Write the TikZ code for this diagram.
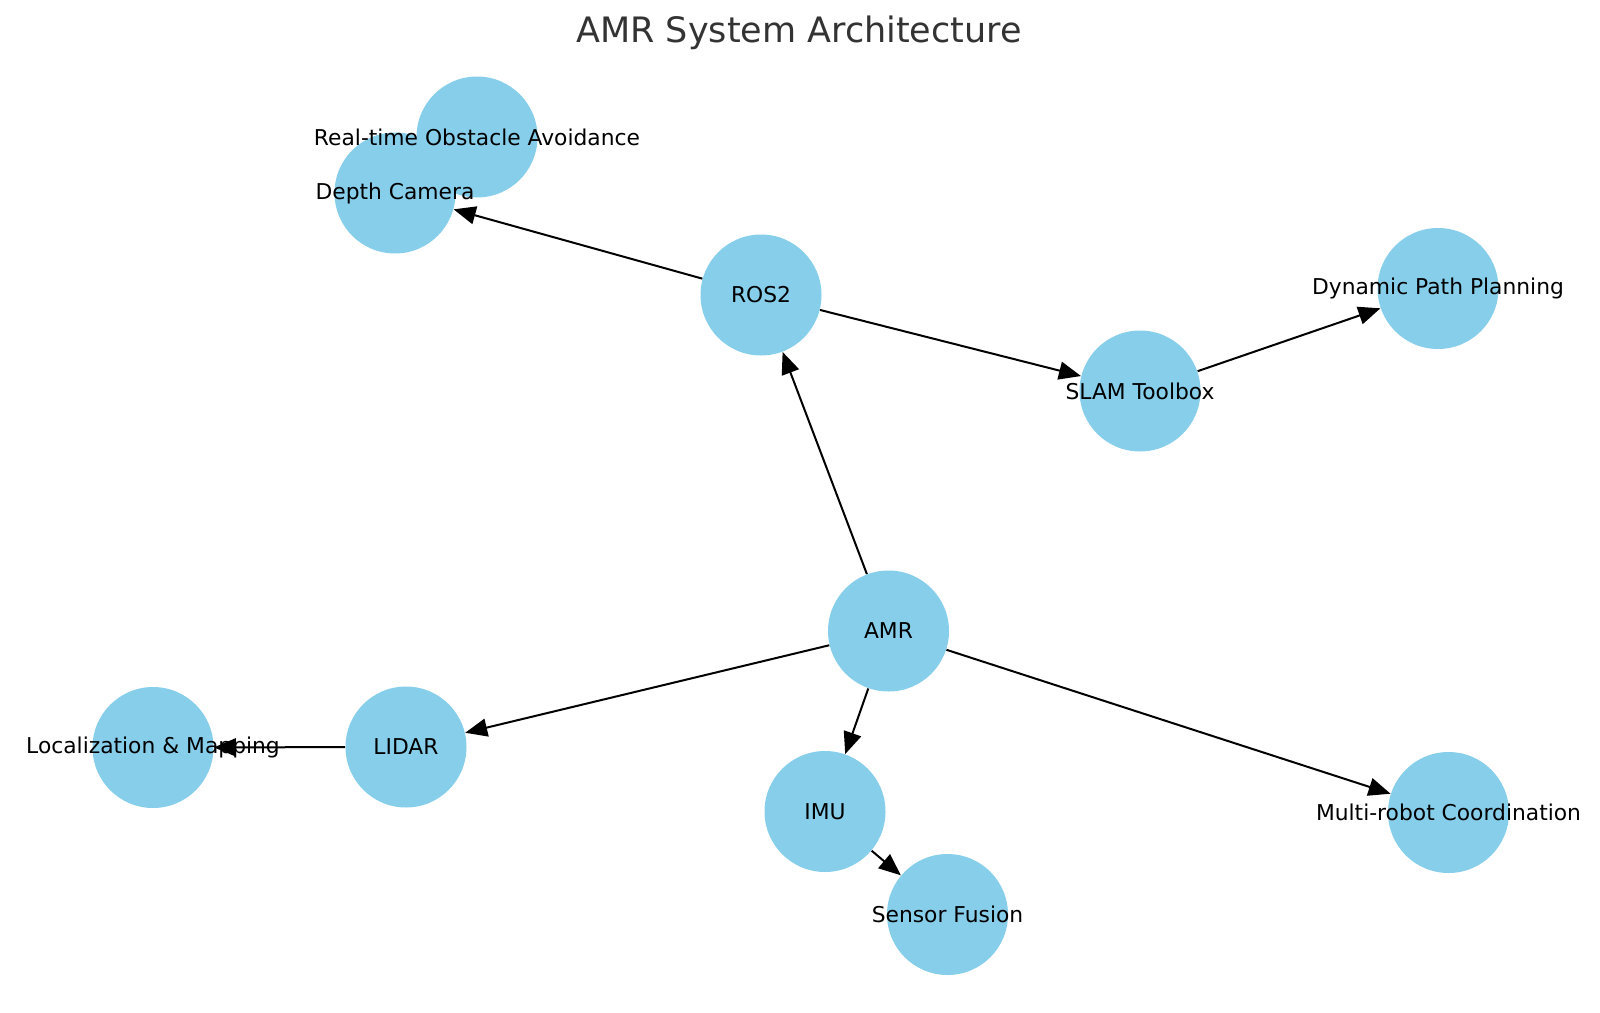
\documentclass[tikz,border=0pt]{standalone}
\usepackage{fontspec}
\setmainfont{DejaVu Sans}
\usetikzlibrary{arrows.meta}
\definecolor{skyblue}{RGB}{135,206,235}
\definecolor{titlegray}{RGB}{51,51,51}
\tikzset{
  dot/.style={circle,fill=skyblue,minimum size=60.5pt,inner sep=0pt},
  edge/.style={-{Triangle[length=11pt,width=9pt]},line width=1pt,black},
  txt/.style={inner sep=0pt,font=\fontsize{10.9pt}{12pt}\selectfont}
}
\begin{document}
\begin{tikzpicture}[x=0.5pt,y=-0.5pt]
			\useasboundingbox (0,0) rectangle (1600,1012);
			
			% Title
			\node[text=titlegray,font=\fontsize{17.5pt}{20pt}\selectfont] (title) at (799,33) {AMR System Architecture};
			
			% Nodes
			\node[dot] (amr) at (888.5,631) {};
			\node[dot] (ros) at (761,295) {};
			\node[dot] (slam) at (1140,391) {};
			\node[dot] (dpp) at (1438,288.5) {};
			\node[dot] (rtoa) at (477,137) {};
			\node[dot] (dcam) at (395,193) {};
			\node[dot] (lidar) at (406,747) {};
			\node[dot] (locmap) at (153,747.5) {};
			\node[dot] (imu) at (825,811.5) {};
			\node[dot] (fusion) at (947.5,914.5) {};
			\node[dot] (multi) at (1448.5,812.5) {};
			
			% Edges
			\draw[edge] (amr) -- (ros);
			\draw[edge] (amr) -- (lidar);
			\draw[edge] (amr) -- (imu);
			\draw[edge] (amr) -- (multi);
			\draw[edge] (ros) -- (dcam);
			\draw[edge] (ros) -- (slam);
			\draw[edge] (slam) -- (dpp);
			\draw[edge] (lidar) -- (locmap);
			\draw[edge] (imu) -- (fusion);
			
			% Labels
			\node[txt] (amr-t) at (amr) {AMR};
			\node[txt] (ros-t) at (ros) {ROS2};
			\node[txt] (slam-t) at (slam) {SLAM Toolbox};
			\node[txt] (dpp-t) at (dpp) {Dynamic Path Planning};
			\node[txt] (rtoa-t) at (rtoa) {Real-time Obstacle Avoidance};
			\node[txt] (dcam-t) at (dcam) {Depth Camera};
			\node[txt] (lidar-t) at (lidar) {LIDAR};
			\node[txt] (locmap-t) at (locmap) {Localization \& Mapping};
			\node[txt] (imu-t) at (imu) {IMU};
			\node[txt] (fusion-t) at (fusion) {Sensor Fusion};
			\node[txt] (multi-t) at (multi) {Multi-robot Coordination};
		\end{tikzpicture}
\end{document}
